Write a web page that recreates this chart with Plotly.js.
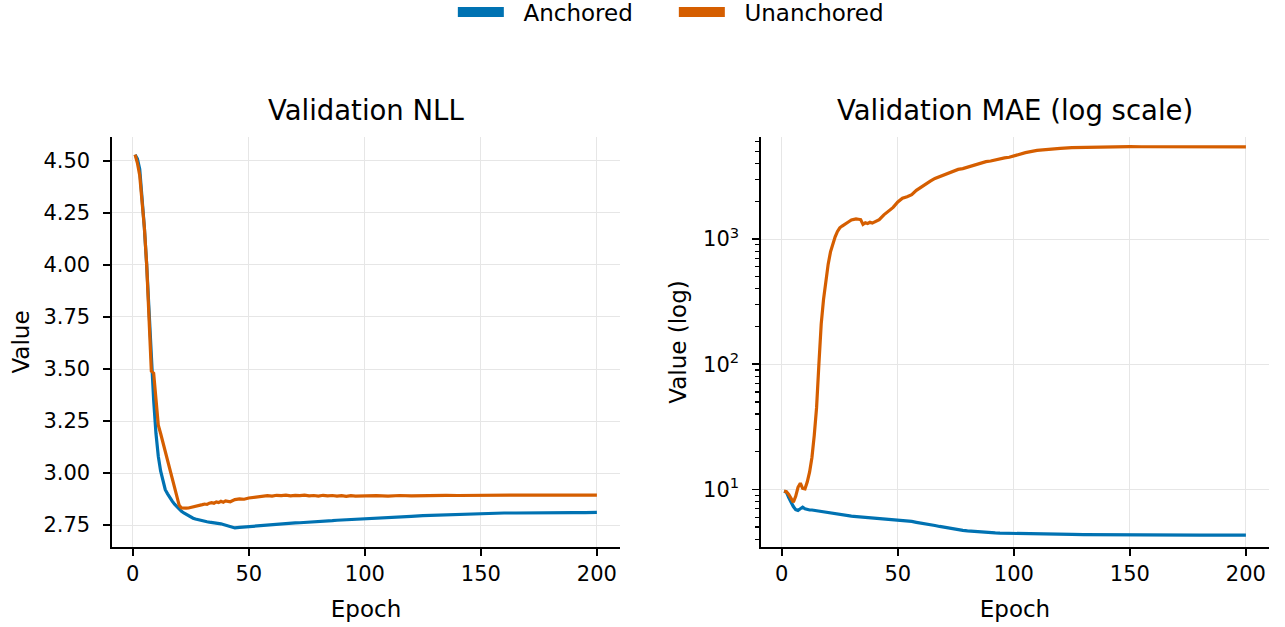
<!DOCTYPE html>
<html>
<head>
<meta charset="utf-8">
<script src="https://cdn.plot.ly/plotly-3.0.1.min.js"></script>
<style>html,body{margin:0;padding:0;background:#fff;}#chart{width:1285px;height:627px;}</style>
</head>
<body>
<div id="chart"></div>
<script>
const epochs = [1,2,3,4,5,6,7,8,9,10,11,12,13,14,15,16,17,18,19,20,21,22,23,24,25,26,27,28,29,30,31,32,33,34,35,36,37,38,39,40,
  42,44,46,48,50,52,54,56,58,60,62,64,66,68,70,72,74,76,78,80,82,84,86,88,90,92,94,96,98,100,
  105,110,115,120,125,130,135,140,145,150,155,160,165,170,175,180,185,190,195,200];

const nllAnchored = [4.53,4.51,4.46,4.34,4.18,4.00,3.78,3.53,3.35,3.19,3.08,3.01,2.96,2.92,2.90,2.88,2.865,2.85,2.838,2.826,
  2.816,2.808,2.801,2.794,2.788,2.783,2.779,2.776,2.772,2.769,2.767,2.766,2.764,2.763,2.761,2.760,2.758,2.756,2.753,2.750,
  2.745,2.736,2.739,2.741,2.741,2.743,2.746,2.749,2.750,2.753,2.755,2.755,2.756,2.758,2.760,2.761,2.762,2.763,2.765,2.767,
  2.768,2.770,2.771,2.773,2.774,2.775,2.776,2.777,2.778,2.779,
  2.782,2.786,2.789,2.792,2.795,2.797,2.800,2.802,2.804,2.806,2.807,2.808,2.808,2.809,2.809,2.810,2.810,2.810,2.810,2.811];

const nllUnanchored = [4.53,4.49,4.43,4.32,4.18,4.00,3.70,3.49,3.48,3.33,3.23,3.19,3.145,3.10,3.06,3.015,2.97,2.925,2.88,2.845,
  2.832,2.830,2.831,2.832,2.834,2.838,2.840,2.842,2.845,2.848,2.851,2.849,2.855,2.858,2.855,2.861,2.858,2.864,2.860,2.866,
  2.862,2.872,2.876,2.874,2.880,2.882,2.885,2.887,2.891,2.889,2.893,2.891,2.894,2.890,2.893,2.891,2.894,2.890,2.892,2.889,
  2.893,2.890,2.892,2.889,2.891,2.888,2.891,2.889,2.890,2.888,
  2.891,2.889,2.892,2.890,2.892,2.891,2.893,2.892,2.893,2.894,2.894,2.894,2.894,2.894,2.894,2.894,2.894,2.894,2.894,2.894];

const maeAnchored = [9.7,9.5,8.6,7.8,7.3,6.9,6.8,7.0,7.2,7.0,6.9,6.85,6.85,6.8,6.75,6.7,6.65,6.6,6.55,6.5,
  6.45,6.42,6.38,6.35,6.28,6.24,6.22,6.18,6.15,6.12,6.10,6.08,6.06,6.03,6.0,5.98,5.95,5.92,5.9,5.88,
  5.84,5.80,5.76,5.72,5.70,5.70,5.64,5.55,5.46,5.40,5.32,5.24,5.15,5.06,4.98,4.90,4.83,4.76,4.71,4.67,
  4.63,4.60,4.57,4.54,4.51,4.49,4.47,4.46,4.45,4.44,
  4.42,4.40,4.39,4.38,4.37,4.36,4.35,4.34,4.33,4.32,4.32,4.32,4.32,4.32,4.32,4.32,4.32,4.32,4.32,4.32];

const maeUnanchored = [9.7,9.6,9.1,8.4,7.9,8.8,10.4,11.2,10.2,10.1,11.5,13.8,18,27,45,100,210,330,460,630,
  790,920,1040,1150,1230,1270,1300,1330,1380,1420,1440,1450,1440,1430,1310,1350,1330,1360,1340,1370,
  1430,1560,1680,1790,1980,2120,2180,2260,2450,2600,2750,2900,3050,3150,3280,3380,3500,3600,3650,3750,
  3850,3950,4050,4150,4200,4300,4380,4450,4500,4620,
  4900,5100,5220,5300,5370,5400,5420,5450,5480,5470,5460,5460,5455,5455,5450,5450,5450,5450,5450,5450];

const seriesNames = ['Anchored', 'Unanchored'];
const seriesColors = ['#0072B2', '#D55E00'];
const panelTitles = ['Validation NLL', 'Validation MAE (log scale)'];
const xTickVals = [0, 50, 100, 150, 200];
const nllTickVals = [2.75, 3.00, 3.25, 3.50, 3.75, 4.00, 4.25, 4.50];
const maeTickVals = [10, 100, 1000];
const maeTickText = ['10<sup>1</sup>', '10<sup>2</sup>', '10<sup>3</sup>'];

const FONT = 'DejaVu Sans, Liberation Sans, sans-serif';
const LW = 3.2;
const NB = '\u00A0\u00A0';

const traces = [
  {x: epochs, y: nllAnchored, xaxis: 'x', yaxis: 'y', mode: 'lines', name: seriesNames[0], legendgroup: 'a', showlegend: false, line: {color: seriesColors[0], width: LW}},
  {x: epochs, y: nllUnanchored, xaxis: 'x', yaxis: 'y', mode: 'lines', name: seriesNames[1], legendgroup: 'u', showlegend: false, line: {color: seriesColors[1], width: LW}},
  {x: epochs, y: maeAnchored, xaxis: 'x2', yaxis: 'y2', mode: 'lines', name: seriesNames[0], legendgroup: 'a', showlegend: false, line: {color: seriesColors[0], width: LW}},
  {x: epochs, y: maeUnanchored, xaxis: 'x2', yaxis: 'y2', mode: 'lines', name: seriesNames[1], legendgroup: 'u', showlegend: false, line: {color: seriesColors[1], width: LW}},
  {x: [null], y: [null], xaxis: 'x', yaxis: 'y', mode: 'lines', name: NB + seriesNames[0], legendgroup: 'a', showlegend: true, line: {color: seriesColors[0], width: 10}},
  {x: [null], y: [null], xaxis: 'x', yaxis: 'y', mode: 'lines', name: NB + seriesNames[1], legendgroup: 'u', showlegend: true, line: {color: seriesColors[1], width: 10}}
];

const axisCommon = {
  showline: true, linecolor: '#000', linewidth: 1.6,
  ticks: 'outside', ticklen: 7, tickwidth: 1.6, tickcolor: '#000',
  showgrid: true, gridcolor: '#e6e6e6', gridwidth: 1,
  zeroline: false, mirror: false,
  tickfont: {family: FONT, size: 21, color: '#000'},
  automargin: false
};
const titleFont = {family: FONT, size: 23, color: '#000'};

const layout = {
  width: 1285, height: 627,
  paper_bgcolor: '#fff', plot_bgcolor: '#fff',
  font: {family: FONT, size: 21, color: '#000'},
  margin: {l: 112, r: 16, t: 137, b: 80, autoexpand: false},
  showlegend: true,
  legend: {
    orientation: 'h', x: 0.4856, xanchor: 'center', y: 1.357, yanchor: 'top',
    yref: 'paper', xref: 'paper',
    font: {family: FONT, size: 23, color: '#000'},
    itemwidth: 46, entrywidth: 160, bgcolor: 'rgba(0,0,0,0)'
  },
  xaxis: Object.assign({}, axisCommon, {
    domain: [0, 0.43907], anchor: 'y', range: [-8.95, 209.95], tickvals: xTickVals,
    title: {text: 'Epoch', font: titleFont, standoff: 16}
  }),
  yaxis: Object.assign({}, axisCommon, {
    domain: [0, 1], anchor: 'x', range: [2.6445, 4.615], tickvals: nllTickVals, tickformat: '.2f',
    ticklabelstandoff: 9,
    title: {text: 'Value', font: titleFont, standoff: 7}
  }),
  xaxis2: Object.assign({}, axisCommon, {
    domain: [0.56093, 1], anchor: 'y2', range: [-8.95, 209.95], tickvals: xTickVals,
    title: {text: 'Epoch', font: titleFont, standoff: 16}
  }),
  yaxis2: Object.assign({}, axisCommon, {
    domain: [0, 1], anchor: 'x2', type: 'log', range: [0.540, 3.815],
    tickvals: maeTickVals, ticktext: maeTickText, ticklabelstandoff: 9,
    minor: {ticks: 'outside', ticklen: 4, tickwidth: 1.2, tickcolor: '#000', dtick: 'D1', showgrid: false},
    title: {text: 'Value (log)', font: titleFont, standoff: 10}
  }),
  annotations: [
    {text: panelTitles[0], xref: 'x domain', yref: 'y domain', x: 0.5, y: 1, xanchor: 'center', yanchor: 'bottom', yshift: 9, showarrow: false, font: {family: FONT, size: 27.5, color: '#000'}},
    {text: panelTitles[1], xref: 'x2 domain', yref: 'y2 domain', x: 0.5, y: 1, xanchor: 'center', yanchor: 'bottom', yshift: 9, showarrow: false, font: {family: FONT, size: 27.5, color: '#000'}}
  ]
};

Plotly.newPlot('chart', traces, layout, {displayModeBar: false, staticPlot: true});
</script>
</body>
</html>
